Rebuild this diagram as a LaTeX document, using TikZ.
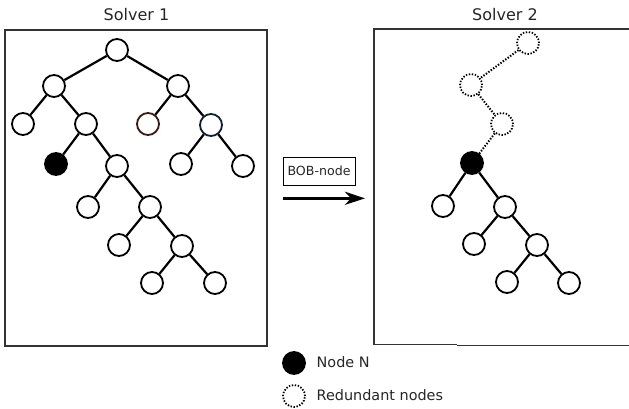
\documentclass[tikz,border=0pt]{standalone}
\usepackage{fontspec}
\setmainfont{DejaVu Sans}
\usetikzlibrary{arrows.meta}
\begin{document}
\begin{tikzpicture}[x=1pt,y=-1pt,
  tn/.style={circle,draw=black,line width=1.8pt,fill=white,minimum size=22pt,inner sep=0pt},
  bn/.style={circle,draw=black,line width=1.8pt,fill=black,minimum size=22pt,inner sep=0pt},
  dn/.style={circle,draw=black,line width=1.8pt,dash pattern=on 1.4pt off 1.6pt,fill=white,minimum size=22pt,inner sep=0pt},
  ed/.style={line width=2.2pt},
  de/.style={line width=2pt,dash pattern=on 1.4pt off 1.6pt},
  frame/.style={draw=black!80,line width=1.3pt},
  ttl/.style={font=\fontsize{16}{19}\selectfont,text=black!85},
  lg/.style={font=\fontsize{14.4}{17}\selectfont,text=black!85,anchor=west,inner sep=0pt}]
\useasboundingbox (0,0) rectangle (629,408);
% Solver 1
\draw[frame] (5,30) rectangle (267,346);
\node[ttl] (t1) at (136.5,15) {Solver 1};
\node[tn] (a) at (117,50) {};
\node[tn] (b) at (54,86) {};
\node[tn] (c) at (178,86) {};
\node[tn] (d) at (23,124) {};
\node[tn] (e) at (86,124) {};
\node[tn,draw={rgb,255:red,60;green,25;blue,15}] (f) at (148,124) {};
\node[tn,draw={rgb,255:red,15;green,30;blue,50}] (g) at (211,125) {};
\node[bn] (h) at (56,164) {};
\node[tn] (i) at (117,166) {};
\node[tn] (j) at (181,164) {};
\node[tn] (k) at (243,166) {};
\node[tn] (l) at (88,207) {};
\node[tn] (m) at (150,207) {};
\node[tn] (n) at (119,245) {};
\node[tn] (o) at (182,246) {};
\node[tn] (p) at (152,283) {};
\node[tn] (q) at (215,283) {};
\foreach \u/\v in {a/b,a/c,b/d,b/e,c/f,c/g,e/h,e/i,g/j,g/k,i/l,i/m,m/n,m/o,o/p,o/q}
  \draw[ed] (\u) -- (\v);
% arrow
\node[draw=black,line width=0.9pt,minimum width=72pt,minimum height=28pt,inner sep=0pt,font=\fontsize{12.6}{15}\selectfont,text=black!85] (bob) at (319,171) {BOB-node};
\coordinate (as) at (283,198.3);
\coordinate (ae) at (365,198.3);
\draw[line width=3pt,-{Stealth[length=20pt,width=13pt,inset=6pt]}] (as) -- (ae);
% Solver 2
\draw[frame] (629,29) -- (374,29) -- (374,344.5) -- (457,344.5);
\draw[frame] (457,345.5) -- (629,345.5);
\node[ttl] (t2) at (505,15) {Solver 2};
\node[dn] (r1) at (528,43) {};
\node[dn] (r2) at (471,85) {};
\node[dn] (r3) at (502,124) {};
\node[bn] (s) at (472,163) {};
\node[tn] (s1) at (443,206) {};
\node[tn] (s2) at (505,207) {};
\node[tn] (s3) at (474,244) {};
\node[tn] (s4) at (537,245) {};
\node[tn] (s5) at (507,282) {};
\node[tn] (s6) at (569,283) {};
\foreach \u/\v in {r1/r2,r2/r3,r3/s}
  \draw[de] (\u) -- (\v);
\foreach \u/\v in {s/s1,s/s2,s2/s3,s2/s4,s4/s5,s4/s6}
  \draw[ed] (\u) -- (\v);
% legend
\node[bn] (lb) at (294,363) {};
\node[lg] (lbt) at (316.5,362.5) {Node N};
\node[dn] (ld) at (294,396) {};
\node[lg] (ldt) at (316.5,395) {Redundant nodes};
\end{tikzpicture}
\end{document}
